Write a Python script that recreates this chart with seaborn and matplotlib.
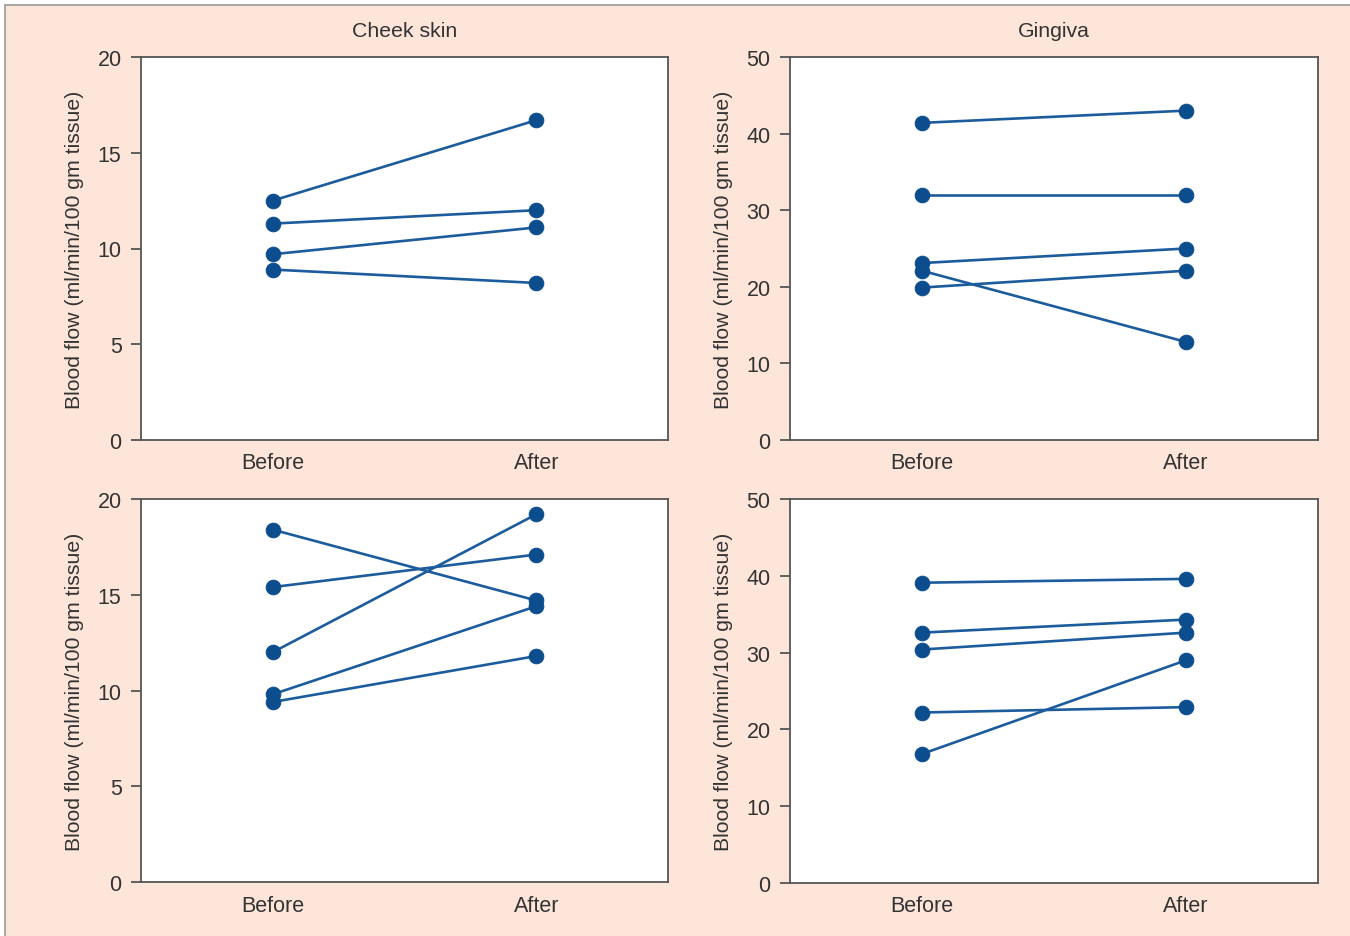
import matplotlib
matplotlib.use("Agg")
import matplotlib.pyplot as plt
from matplotlib.patches import Rectangle
import seaborn as sns
import pandas as pd

sns.set_theme(style="white")
plt.rcParams['font.family'] = ['Liberation Sans', 'DejaVu Sans']

conditions = ["Before", "After"]
ylabel = "Blood flow (ml/min/100 gm tissue)"
col_titles = ["Cheek skin", "Gingiva"]

# top-left: cheek skin (set 1)
cheek1_before = [12.5, 11.3, 9.7, 8.9]
cheek1_after = [16.7, 12.0, 11.1, 8.2]
# top-right: gingiva (set 1)
ging1_before = [41.4, 32.0, 23.1, 22.1, 19.9]
ging1_after = [43.0, 32.0, 25.0, 12.8, 22.1]
# bottom-left: cheek skin (set 2)
cheek2_before = [18.4, 15.4, 12.0, 9.8, 9.4]
cheek2_after = [14.7, 17.1, 19.2, 14.4, 11.8]
# bottom-right: gingiva (set 2)
ging2_before = [39.1, 32.6, 30.4, 22.2, 16.8]
ging2_after = [39.6, 34.3, 32.6, 22.9, 29.0]

panels = [
    (cheek1_before, cheek1_after, 20, [0, 5, 10, 15, 20]),
    (ging1_before, ging1_after, 50, [0, 10, 20, 30, 40, 50]),
    (cheek2_before, cheek2_after, 20, [0, 5, 10, 15, 20]),
    (ging2_before, ging2_after, 50, [0, 10, 20, 30, 40, 50]),
]

W, H = 1350, 937
fig = plt.figure(figsize=(W / 100, H / 100), dpi=100, facecolor="white")
bg = "#fde5da"
fig.patches.append(Rectangle((5 / W, -0.01), 1.02, 1 - 6 / H + 0.01,
                             transform=fig.transFigure, facecolor=bg,
                             edgecolor="#9a9a9a", linewidth=1.2, zorder=-10))

boxes = [
    (141, 58, 668, 441),
    (790, 58, 1318, 441),
    (141, 500, 668, 883),
    (790, 500, 1318, 884),
]

line_color = "#1c5c9c"
marker_color = "#0c4d8e"
spine_color = "#555555"
text_color = "#333333"

for i, ((before, after, ymax, yticks), (x0, y0, x1, y1)) in enumerate(zip(panels, boxes)):
    ax = fig.add_axes([x0 / W, 1 - y1 / H, (x1 - x0) / W, (y1 - y0) / H])
    ax.set_facecolor("white")
    rows = []
    for k, (b, a) in enumerate(zip(before, after)):
        rows.append({"subject": k, "cond": 0, "value": b})
        rows.append({"subject": k, "cond": 1, "value": a})
    df = pd.DataFrame(rows)
    sns.lineplot(data=df, x="cond", y="value", units="subject", estimator=None,
                 color=line_color, linewidth=1.9, marker="o", markersize=10.5,
                 markerfacecolor=marker_color, markeredgecolor=marker_color,
                 ax=ax, legend=False)
    ax.set_xlim(-0.5, 1.5)
    ax.set_ylim(0, ymax)
    ax.set_xticks([0, 1])
    ax.set_xticklabels(conditions)
    ax.set_yticks(yticks)
    ax.set_xlabel("")
    ax.set_ylabel(ylabel, fontsize=15.3, color=text_color, labelpad=10)
    ax.tick_params(axis="y", which="major", left=True, length=7, width=1.3,
                   color=spine_color, pad=7, labelsize=15.5, labelcolor=text_color)
    ax.tick_params(axis="x", which="major", bottom=False, length=0, pad=9,
                   labelsize=15.5, labelcolor=text_color)
    for s in ax.spines.values():
        s.set_visible(True)
        s.set_color(spine_color)
        s.set_linewidth(1.3)
    if i < 2:
        ax.set_title(col_titles[i], fontsize=15.3, color=text_color, pad=15)

fig.savefig("out.png", dpi=100, facecolor=fig.get_facecolor())
